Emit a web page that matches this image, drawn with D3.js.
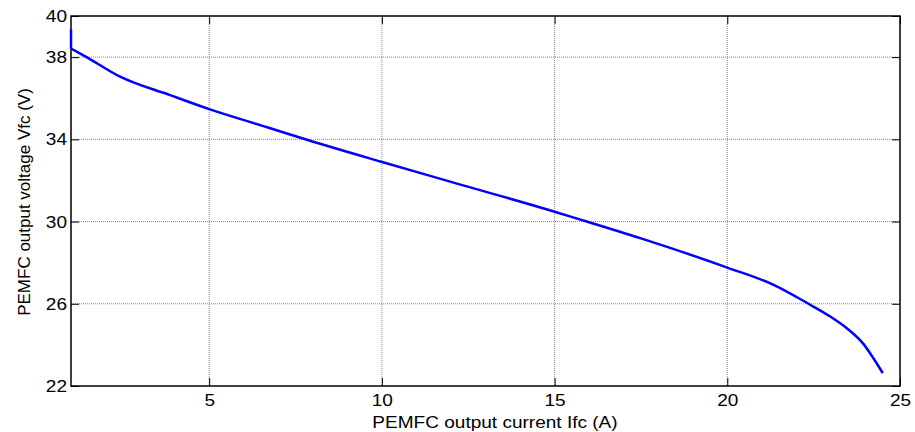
<!DOCTYPE html>
<html>
<head>
<meta charset="utf-8">
<script src="https://cdn.jsdelivr.net/npm/d3@7"></script>
<style>
  html, body { margin: 0; padding: 0; background: #fff; }
  svg { display: block; font-family: "Liberation Sans", Arial, sans-serif; }
</style>
</head>
<body>
<svg id="chart" width="915" height="432"></svg>
<script>
// Data
const currentA = [1, 1, 1.45, 2.42, 3.87, 4.98, 6.77, 7.83, 9.98, 12.0, 15.0, 15.93, 17.5, 20.0, 21.34, 22.35, 22.98, 23.46, 23.94, 24.23, 24.5];
const voltageV = [39.35, 38.42, 38.0, 37.05, 36.15, 35.48, 34.54, 33.98, 32.91, 31.93, 30.48, 30.0, 29.18, 27.76, 26.92, 26.0, 25.38, 24.81, 24.05, 23.35, 22.63];
const xTicks = [5, 10, 15, 20, 25];
const yTicks = [22, 26, 30, 34, 38, 40];
const xDomain = [1, 25];
const yDomain = [22, 40];
const xLabel = "PEMFC output current Ifc (A)";
const yLabel = "PEMFC output voltage Vfc (V)";

const svg = d3.select("#chart");
const m = { left: 71, top: 16, right: 900, bottom: 386 };
const x = d3.scaleLinear().domain(xDomain).range([m.left, m.right]);
const y = d3.scaleLinear().domain(yDomain).range([m.bottom, m.top]);
const fs = "17px";
const stretch = 1.12;

// grid
const grid = svg.append("g");
grid.selectAll("line.gx").data(xTicks.filter(t => t > xDomain[0] && t < xDomain[1]))
  .enter().append("line")
  .attr("x1", d => x(d)).attr("x2", d => x(d))
  .attr("y1", m.top).attr("y2", m.bottom)
  .attr("stroke", "#8a8a8a").attr("stroke-width", 1).attr("stroke-dasharray", "1,1");
grid.selectAll("line.gy").data(yTicks.filter(t => t > yDomain[0] && t < yDomain[1]))
  .enter().append("line")
  .attr("y1", d => y(d)).attr("y2", d => y(d))
  .attr("x1", m.left).attr("x2", m.right)
  .attr("stroke", "#8a8a8a").attr("stroke-width", 1).attr("stroke-dasharray", "1,1");

// axes (inward ticks)
const tickLen = 8;
const xAxisB = d3.axisBottom(x).tickValues(xTicks).tickSizeInner(-tickLen).tickSizeOuter(0).tickPadding(8).tickFormat(d3.format("d"));
const xAxisT = d3.axisTop(x).tickValues(xTicks).tickSizeInner(-tickLen).tickSizeOuter(0).tickFormat("");
const yAxisL = d3.axisLeft(y).tickValues(yTicks).tickSizeInner(-tickLen).tickSizeOuter(0).tickPadding(4).tickFormat(d3.format("d"));
const yAxisR = d3.axisRight(y).tickValues(yTicks).tickSizeInner(-tickLen).tickSizeOuter(0).tickFormat("");

function style(g) {
  g.select(".domain").remove();
  g.selectAll(".tick line").attr("stroke", "#000").attr("stroke-width", 1);
  g.selectAll(".tick text").attr("fill", "#000").style("font-size", fs).style("font-family", "'Liberation Sans', Arial, sans-serif")
    .attr("transform", function() {
      const ax = +d3.select(this).attr("x") || 0;
      return `translate(${ax},0) scale(${stretch},1) translate(${-ax},0)`;
    });
}
svg.append("g").attr("transform", `translate(0,${m.bottom})`).call(xAxisB).call(style);
svg.append("g").attr("transform", `translate(0,${m.top})`).call(xAxisT).call(style);
svg.append("g").attr("transform", `translate(${m.left},0)`).call(yAxisL).call(style);
svg.append("g").attr("transform", `translate(${m.right},0)`).call(yAxisR).call(style);

// box
svg.append("rect")
  .attr("x", m.left).attr("y", m.top)
  .attr("width", m.right - m.left).attr("height", m.bottom - m.top)
  .attr("fill", "none").attr("stroke", "#000").attr("stroke-width", 1.5);

// line: initial vertical step (linear) + smooth remaining curve
const pts = currentA.map((c, i) => [c, voltageV[i]]);
const lineLin = d3.line().x(d => x(d[0])).y(d => y(d[1])).curve(d3.curveLinear);
const lineSmooth = d3.line().x(d => x(d[0])).y(d => y(d[1])).curve(d3.curveMonotoneX);
const lineG = svg.append("g")
  .attr("fill", "none").attr("stroke", "#0000ff").attr("stroke-width", 2.5)
  .attr("stroke-linejoin", "round");
lineG.append("path").datum(pts.slice(0, 2)).attr("d", lineLin);
lineG.append("path").datum(pts.slice(1)).attr("d", lineSmooth);

// labels
const xlx = 495, xly = 428;
svg.append("text")
  .attr("x", xlx).attr("y", xly)
  .attr("transform", `translate(${xlx},0) scale(${stretch},1) translate(${-xlx},0)`)
  .attr("text-anchor", "middle").style("font-size", fs).attr("fill", "#000")
  .text(xLabel);
svg.append("text")
  .attr("transform", `translate(30,${(m.top + m.bottom) / 2 + 1}) rotate(-90)`)
  .attr("text-anchor", "middle").style("font-size", fs).attr("fill", "#000")
  .text(yLabel);
</script>
</body>
</html>
